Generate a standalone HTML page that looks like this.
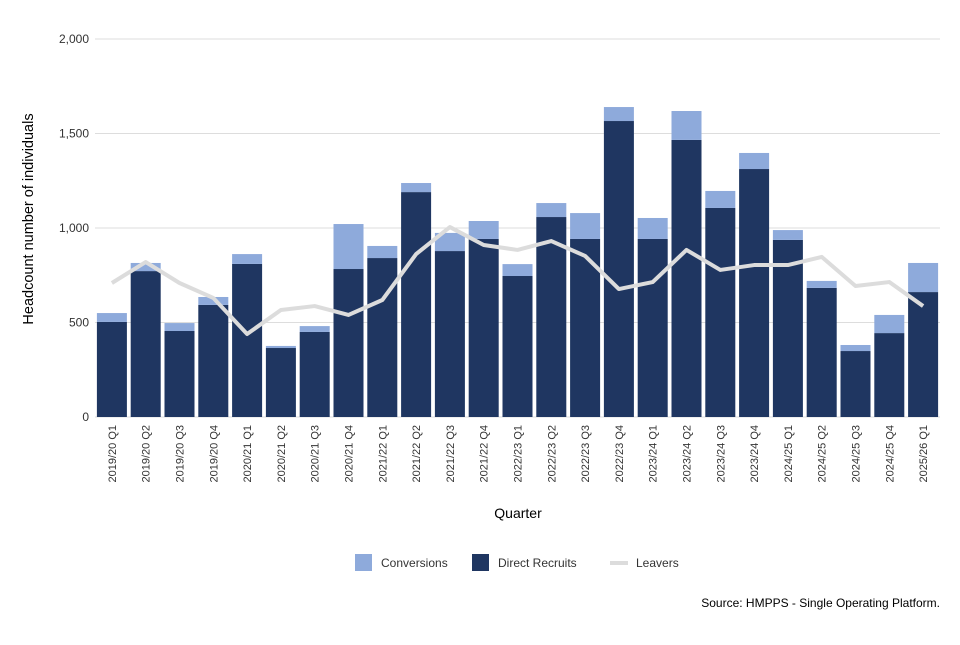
<!DOCTYPE html>
<html><head><meta charset="utf-8"><style>
body{margin:0;background:#fff;font-family:"Liberation Sans",sans-serif}
svg text{font-family:"Liberation Sans",sans-serif}
</style></head><body>
<svg id="chart" width="960" height="640" xmlns="http://www.w3.org/2000/svg"></svg>
<script>
const categories=["2019/20 Q1","2019/20 Q2","2019/20 Q3","2019/20 Q4","2020/21 Q1","2020/21 Q2","2020/21 Q3","2020/21 Q4","2021/22 Q1","2021/22 Q2","2021/22 Q3","2021/22 Q4","2022/23 Q1","2022/23 Q2","2022/23 Q3","2022/23 Q4","2023/24 Q1","2023/24 Q2","2023/24 Q3","2023/24 Q4","2024/25 Q1","2024/25 Q2","2024/25 Q3","2024/25 Q4","2025/26 Q1"];
const directRecruits=[503,772,455,593,810,365,450,783,841,1190,878,942,746,1058,942,1566,942,1466,1106,1312,937,683,349,444,661];
const conversions=[47,43,42,42,52,11,31,238,64,48,96,95,63,74,137,74,111,153,90,85,52,37,32,96,154];
const leavers=[709,820,709,630,439,566,587,540,619,862,1005,910,884,931,852,677,714,884,778,804,804,847,693,714,587];
const yTicks=[0,500,1000,1500,2000];
const yTickLabels=["0","500","1,000","1,500","2,000"];
const NS="http://www.w3.org/2000/svg";
const svg=document.getElementById('chart');
const x0=95,x1=940,yb=417,yt=39,yMax=2000;
const band=(x1-x0)/categories.length,bw=30;
const y=v=>yb-(v/yMax)*(yb-yt);
const xc=i=>x0+band*i+band/2;
function el(t,a,p){const e=document.createElementNS(NS,t);for(const k in a)e.setAttribute(k,a[k]);(p||svg).appendChild(e);return e;}
yTicks.forEach((t,i)=>{
 const g=el('line',{x1:x0,x2:x1,y1:y(t),y2:y(t),stroke:'#dddddd','stroke-width':1});
 
 
 const tx=el('text',{x:89,y:y(t)+4,'text-anchor':'end','font-size':12,fill:'#333'});
 tx.textContent=yTickLabels[i];
 
 
});
categories.forEach((c,i)=>{
 const x=xc(i)-bw/2;
 const r1=el('rect',{x:x,y:y(directRecruits[i]),width:bw,height:yb-y(directRecruits[i]),fill:'#1f3661'});
 
 
 const top=directRecruits[i]+conversions[i];
 const r2=el('rect',{x:x,y:y(top),width:bw,height:y(directRecruits[i])-y(top),fill:'#8eaadb'});
 
 
 const tx=el('text',{transform:`translate(${xc(i)+4},425) rotate(-90)`,'text-anchor':'end','font-size':11,fill:'#333'});
 tx.textContent=c;
 
 
});
const pts=leavers.map((v,i)=>xc(i)+','+y(v)).join(' ');
const pl=el('polyline',{points:pts,fill:'none',stroke:'#dcdcdc','stroke-width':4,'stroke-linejoin':'round'});


function txt(s,a,name){const t=el('text',a);t.textContent=s;return t;}
txt('Quarter',{x:518,y:518,'text-anchor':'middle','font-size':14,fill:'#000'},'x-axis-title');
txt('Headcount number of individuals',{transform:'translate(33,219) rotate(-90)','text-anchor':'middle','font-size':14.5,fill:'#000'},'y-axis-title');
const l1=el('rect',{x:355,y:554,width:17,height:17,fill:'#8eaadb'});
txt('Conversions',{x:381,y:567,'font-size':12,fill:'#333'},'legend-conversions');
const l2=el('rect',{x:472,y:554,width:17,height:17,fill:'#1f3661'});
txt('Direct Recruits',{x:498,y:567,'font-size':12,fill:'#333'},'legend-direct-recruits');
const l3=el('line',{x1:610,x2:628,y1:563,y2:563,stroke:'#dcdcdc','stroke-width':4});
txt('Leavers',{x:636,y:567,'font-size':12,fill:'#333'},'legend-leavers');
txt('Source: HMPPS - Single Operating Platform.',{x:940,y:607,'text-anchor':'end','font-size':12,fill:'#000'},'source-note');
</script>
</body></html>
